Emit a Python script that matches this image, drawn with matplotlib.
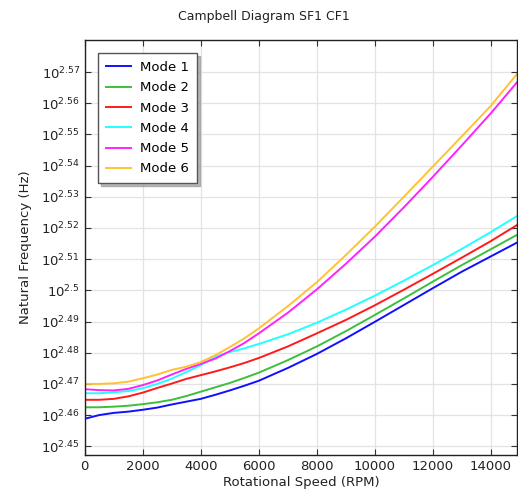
import numpy as np
import matplotlib
matplotlib.use("Agg")
import matplotlib.pyplot as plt

# Rotational speed (RPM)
rpm = [0, 500, 1000, 1500, 2000, 2500, 3000, 3500, 4000, 4500, 5000, 5500, 6000,
       7000, 8000, 9000, 10000, 11000, 12000, 13000, 14000, 15000]

# log10 of natural frequency (Hz)
mode1 = [2.4588, 2.4600, 2.4607, 2.4611, 2.4617, 2.4624, 2.4634, 2.4643, 2.4652, 2.4665, 2.4679,
         2.4694, 2.4710, 2.4751, 2.4796, 2.4846, 2.4899, 2.4953, 2.5007, 2.5060, 2.5109, 2.5158]
mode2 = [2.4625, 2.4625, 2.4627, 2.4630, 2.4635, 2.4641, 2.4649, 2.4661, 2.4675, 2.4689, 2.4703,
         2.4719, 2.4736, 2.4776, 2.4820, 2.4869, 2.4921, 2.4974, 2.5028, 2.5081, 2.5132, 2.5183]
mode3 = [2.4649, 2.4649, 2.4652, 2.4660, 2.4672, 2.4687, 2.4701, 2.4716, 2.4728, 2.4740, 2.4753,
         2.4767, 2.4783, 2.4820, 2.4862, 2.4905, 2.4952, 2.5002, 2.5053, 2.5105, 2.5158, 2.5215]
mode4 = [2.4670, 2.4670, 2.4673, 2.4677, 2.4686, 2.4700, 2.4717, 2.4738, 2.4760, 2.4787, 2.4802,
         2.4814, 2.4828, 2.4859, 2.4896, 2.4938, 2.4983, 2.5031, 2.5081, 2.5133, 2.5187, 2.5244]
mode5 = [2.4683, 2.4680, 2.4679, 2.4684, 2.4696, 2.4711, 2.4730, 2.4748, 2.4764, 2.4781, 2.4805,
         2.4831, 2.4862, 2.4928, 2.5003, 2.5085, 2.5172, 2.5266, 2.5364, 2.5465, 2.5568, 2.5678]
mode6 = [2.4700, 2.4700, 2.4702, 2.4707, 2.4718, 2.4730, 2.4745, 2.4755, 2.4770, 2.4792, 2.4818,
         2.4846, 2.4878, 2.4949, 2.5026, 2.5113, 2.5204, 2.5300, 2.5397, 2.5494, 2.5592, 2.5705]

modes = [mode1, mode2, mode3, mode4, mode5, mode6]
labels = ["Mode 1", "Mode 2", "Mode 3", "Mode 4", "Mode 5", "Mode 6"]
colors = ["#1010ff", "#3dbf3d", "#ff1a1a", "#22ffff", "#ff22ff", "#ffc232"]

ytick_exp = [2.45, 2.46, 2.47, 2.48, 2.49, 2.50, 2.51, 2.52, 2.53, 2.54, 2.55, 2.56, 2.57]
xticks = [0, 2000, 4000, 6000, 8000, 10000, 12000, 14000]


def exp_label(e):
    s = f"{e:.2f}".rstrip("0")
    return r"$10^{%s}$" % s


fig = plt.figure(figsize=(5.18, 4.93), dpi=100)
ax = fig.add_axes([0.1635, 0.0771, 0.998 - 0.1635, 0.9189 - 0.0771])

for vals, lab, col in zip(modes, labels, colors):
    ax.plot(rpm, 10 ** np.array(vals), color=col, linewidth=1.4, label=lab)

ax.set_yscale("log")
ax.yaxis.set_minor_locator(matplotlib.ticker.NullLocator())
ax.set_yticks([10 ** e for e in ytick_exp])
ax.set_yticklabels([exp_label(e) for e in ytick_exp])
ax.set_ylim(10 ** 2.4472, 10 ** 2.5803)
ax.set_xlim(0, 14900)
ax.set_xticks(xticks)
ax.set_xticklabels([str(x) for x in xticks])

ax.tick_params(direction="in", top=True, right=True, labelsize=9.5, length=4,
               color="#333333", labelcolor="#222222")
ax.grid(True, color="#e3e3e3", linewidth=0.9)
ax.set_axisbelow(True)
for sp in ax.spines.values():
    sp.set_color("#222222")
    sp.set_linewidth(1.0)

ax.set_xlabel("Rotational Speed (RPM)", fontsize=9.5, color="#222222", labelpad=2)
ax.set_ylabel("Natural Frequency (Hz)", fontsize=9.5, color="#222222", labelpad=6)
fig.suptitle("Campbell Diagram SF1 CF1", fontsize=9, x=0.51, y=0.98, color="#222222")

leg = ax.legend(loc="upper left", fontsize=9.5, frameon=True, fancybox=False,
                shadow={"color": "0.55", "alpha": 0.6}, handlelength=1.9,
                handletextpad=0.7, labelspacing=0.55,
                borderaxespad=1.0, borderpad=0.6)
leg.get_frame().set_edgecolor("#555555")
leg.get_frame().set_linewidth(1.0)

fig.savefig("out.png", dpi=100)
